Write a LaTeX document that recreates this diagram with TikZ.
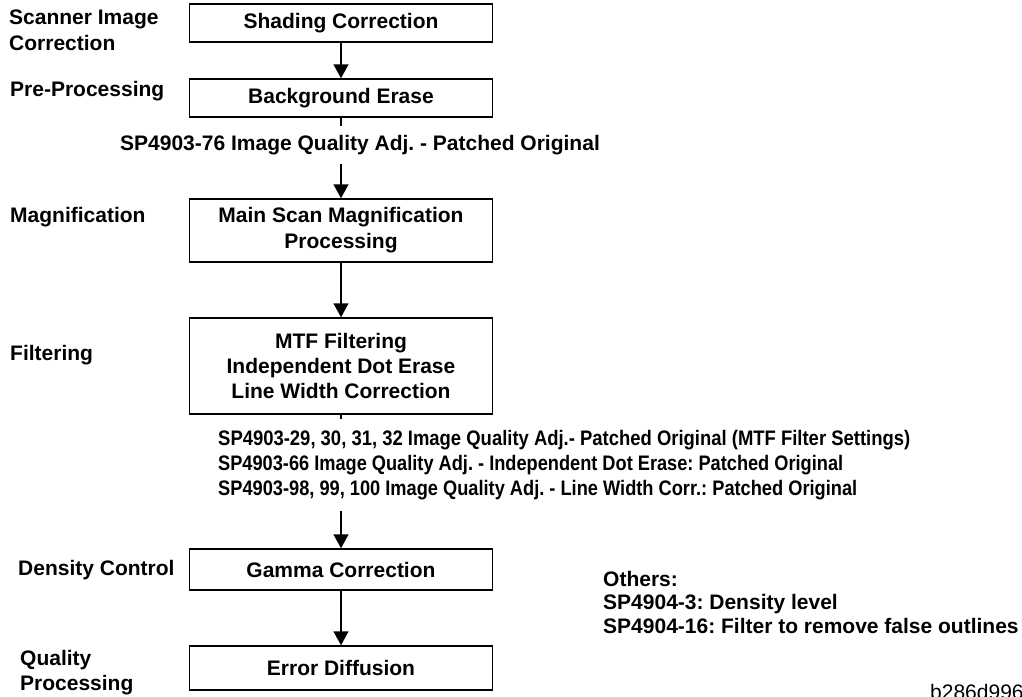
\documentclass[tikz,border=0pt]{standalone}
\usepackage{fontspec}
\setmainfont{Liberation Sans}
\usepackage{graphicx}
\usetikzlibrary{arrows.meta}
\frenchspacing
\newcommand\bigbf{\fontsize{21}{25}\selectfont\bfseries}
\newcommand\bigrm{\fontsize{21}{25}\selectfont}
\begin{document}
\begin{tikzpicture}[x=1pt,y=-1pt,
  box/.style={draw, line width=1.5pt, minimum width=303pt, inner sep=0pt, align=center, font=\bigbf},
  lbl/.style={anchor=west, inner sep=0pt, align=left, font=\bigbf},
  note/.style={anchor=west, inner xsep=0pt, align=left, font=\bigbf, fill=white},
  flow/.style={line width=1.5pt, -{Triangle[width=15pt,length=14pt]}}]
\useasboundingbox (0,0) rectangle (1022,696);

% process boxes
\node[box, minimum height=38pt] (b1) at (341,23) {Shading Correction};
\node[box, minimum height=38pt] (b2) at (341,98) {Background Erase};
\node[box, minimum height=63pt] (b3) at (341,230.5) {Main Scan Magnification\\[1pt]Processing};
\node[box, minimum height=96pt] (b4) at (341,366) {MTF Filtering\\Independent Dot Erase\\Line Width Correction};
\node[box, minimum height=41pt] (b5) at (341,569.5) {Gamma Correction};
\node[box, minimum height=44pt] (b6) at (341,668) {Error Diffusion};

% connectors
\draw[flow] (b1) -- (b2);
\draw[flow] (b2) -- (b3);
\draw[flow] (b3) -- (b4);
\draw[flow] (b4) -- (b5);
\draw[flow] (b5) -- (b6);

% SP notes (white background hides part of the connectors)
\node[note, inner ysep=9pt] (n1) at (120,145) {SP4903-76 Image Quality Adj. - Patched Original};
\node[note, inner ysep=11pt, anchor=north west] (n2) at (218,419)
  {\resizebox{692pt}{\height}{SP4903-29, 30, 31, 32 Image Quality Adj.- Patched Original (MTF Filter Settings)}\\
   \resizebox{625pt}{\height}{SP4903-66 Image Quality Adj. - Independent Dot Erase: Patched Original}\\
   \resizebox{639pt}{\height}{SP4903-98, 99, 100 Image Quality Adj. - Line Width Corr.: Patched Original}};

% stage labels
\node[lbl, font=\fontsize{21}{26}\selectfont\bfseries] (l1) at (9,30) {Scanner Image\\Correction};
\node[lbl] (l2) at (10,91) {Pre-Processing};
\node[lbl] (l3) at (10,217) {Magnification};
\node[lbl] (l4) at (10,355) {Filtering};
\node[lbl] (l5) at (18,570) {Density Control};
\node[lbl] (l6) at (20,672.5) {Quality\\Processing};

% others
\node[lbl, font=\fontsize{21}{23.5}\selectfont\bfseries] (oth) at (603,602) {Others:\\SP4904-3: Density level\\SP4904-16: Filter to remove false outlines};

% figure id
\node[anchor=base west, inner sep=0pt, font=\bigrm] (fid) at (930,699) {b286d996};
\end{tikzpicture}
\end{document}
